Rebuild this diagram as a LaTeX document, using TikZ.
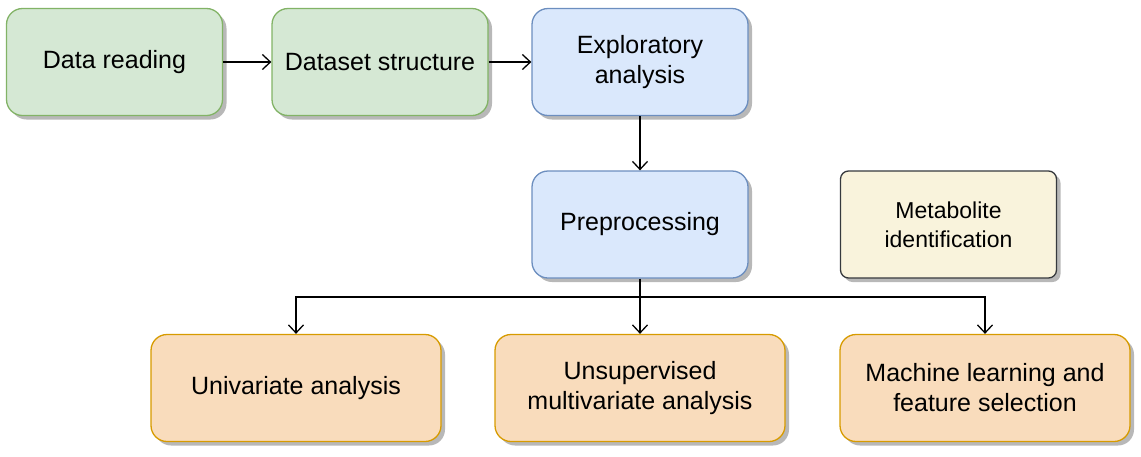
\documentclass[tikz,border=0pt]{standalone}
\usepackage{fontspec}
\setmainfont{Liberation Sans}
\usepackage{tikz}
\usetikzlibrary{positioning,calc,arrows.meta,shadows}

\begin{document}
\begin{tikzpicture}[x=1pt,y=-1pt]
	\definecolor{grfill}{HTML}{D5E8D4}
	\definecolor{grline}{HTML}{82B366}
	\definecolor{blfill}{HTML}{DAE8FC}
	\definecolor{blline}{HTML}{6C8EBF}
	\definecolor{orfill}{HTML}{F9DCBC}
	\definecolor{orline}{HTML}{D79B00}
	\definecolor{crfill}{HTML}{F9F3DC}
	\definecolor{crline}{HTML}{36393D}
	\tikzset{
		box/.style={
			rectangle,
			rounded corners=16pt,
			line width=1.3pt,
			minimum height=107pt,
			inner sep=2pt,
			align=center,
			font=\fontsize{25}{30}\selectfont,
			drop shadow={shadow xshift=4pt, shadow yshift=-4pt, fill=black!28, opacity=1}
		},
		greenbox/.style={box, draw=grline, fill=grfill, minimum width=216pt},
		bluebox/.style={box, draw=blline, fill=blfill, minimum width=216pt},
		orangebox/.style={box, draw=orline, fill=orfill, minimum width=290pt},
		notebox/.style={box, draw=crline, fill=crfill, minimum width=216pt,
			rounded corners=8pt, font=\fontsize{23}{29}\selectfont},
		conn/.style={
			draw=black,
			line width=1.3pt,
			-{Straight Barb[length=8pt,width=15pt,line width=1.3pt]}
		}
	}
	\useasboundingbox (0,0) rectangle (1141,456);

	% ======= Top row =======
	\node[greenbox] (read) at (114.5,62) {Data reading};
	\node[greenbox] (struct) at (380,62) {Dataset structure};
	\node[bluebox] (explor) at (640,62) {Exploratory\\analysis};

	% ======= Middle row =======
	\node[bluebox] (prep) at (640,224.5) {Preprocessing};
	\node[notebox] (metab) at (948.5,224.5) {Metabolite\\identification};

	% ======= Bottom row =======
	\node[orangebox] (uni) at (296,388) {Univariate analysis};
	\node[orangebox] (unsup) at (640,388) {Unsupervised\\multivariate analysis};
	\node[orangebox] (ml) at (985,388) {Machine learning and\\feature selection};

	\coordinate (split) at (640,297);

	% ======= Arrows =======
	\draw[conn] (read) -- (struct);
	\draw[conn] (struct) -- (explor);
	\draw[conn] (explor) -- (prep);
	\draw[line width=1.3pt] (prep) -- (split);
	\draw[conn] (split) -| (uni);
	\draw[conn] (split) -- (unsup);
	\draw[conn] (split) -| (ml);
\end{tikzpicture}
\end{document}
